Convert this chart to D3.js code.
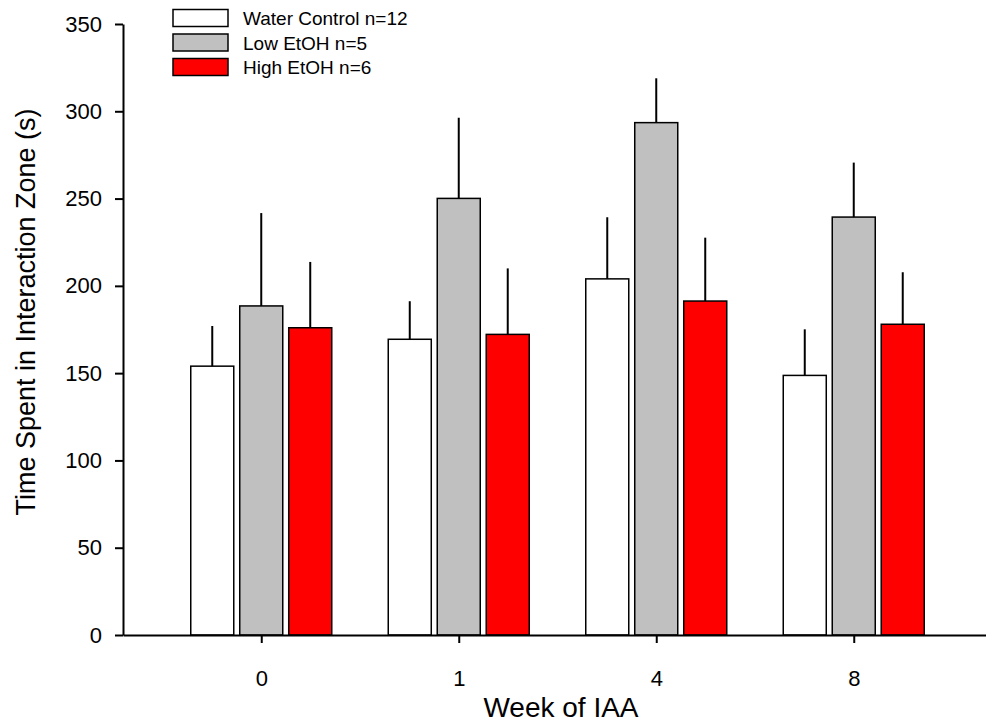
<!DOCTYPE html>
<meta charset="utf-8">
<body style="margin:0">
<style>
body { background: #fff; font-family: Arial, "Liberation Sans", sans-serif; }
.axis path, .axis line { stroke: #000; stroke-width: 2px; }
.axis text { font-size: 22px; fill: #000; font-family: Arial, "Liberation Sans", sans-serif; }
.bar { stroke: #000; stroke-width: 1.5px; }
.err { stroke: #000; stroke-width: 2px; }
</style>
<script src="https://cdn.jsdelivr.net/npm/d3@7"></script>
<script>

var weeks = ["0", "1", "4", "8"];
var seriesNames = ["Water Control n=12", "Low EtOH n=5", "High EtOH n=6"];
var seriesColors = ["#ffffff", "#c0c0c0", "#ff0000"];

var waterMean = [154, 169.4, 204, 148.7];
var waterErr  = [23, 21.8, 35.3, 26.4];
var lowMean   = [188.5, 250.1, 293.5, 239.4];
var lowErr    = [53.2, 46.2, 25.4, 31.2];
var highMean  = [176, 172.2, 191.3, 178];
var highErr   = [37.7, 37.8, 36.3, 29.8];

var yTicks = [0, 50, 100, 150, 200, 250, 300, 350];

var means = [waterMean, lowMean, highMean];
var errs = [waterErr, lowErr, highErr];

var rows = [];
weeks.forEach(function(w, i) {
  seriesNames.forEach(function(s, j) {
    rows.push({week: w, series: s, color: seriesColors[j], mean: means[j][i], err: errs[j][i]});
  });
});

var svg = d3.select("body").append("svg")
    .attr("width", 986)
    .attr("height", 726);

var x = d3.scalePoint()
    .domain(weeks)
    .range([123, 992])
    .padding(0.7);

var xs = d3.scaleBand()
    .domain(seriesNames)
    .range([-70.5, 70.5])
    .paddingInner(0.122)
    .paddingOuter(0);

var y = d3.scaleLinear()
    .domain([0, 350])
    .range([635, 24]);

// bars
svg.selectAll(".bar")
  .data(rows)
 .enter().append("rect")
  .attr("class", "bar")
  .attr("x", function(d) { return x(d.week) + xs(d.series); })
  .attr("width", xs.bandwidth())
  .attr("y", function(d) { return y(d.mean); })
  .attr("height", function(d) { return y(0) - y(d.mean); })
  .style("fill", function(d) { return d.color; });

// upper error bars only
svg.selectAll(".err")
  .data(rows)
 .enter().append("line")
  .attr("class", "err")
  .attr("x1", function(d) { return x(d.week) + xs(d.series) + xs.bandwidth() / 2; })
  .attr("x2", function(d) { return x(d.week) + xs(d.series) + xs.bandwidth() / 2; })
  .attr("y1", function(d) { return y(d.mean); })
  .attr("y2", function(d) { return y(d.mean + d.err); });

// axes
svg.append("g")
  .attr("class", "axis")
  .attr("transform", "translate(0,635)")
  .call(d3.axisBottom(x).tickSize(8).tickSizeOuter(0).tickPadding(27));

svg.append("g")
  .attr("class", "axis")
  .attr("transform", "translate(123,0)")
  .call(d3.axisLeft(y).tickValues(yTicks).tickSize(8).tickSizeOuter(0).tickPadding(13));

svg.append("text")
  .attr("x", 561)
  .attr("y", 717)
  .attr("text-anchor", "middle")
  .style("font-size", "28px")
  .text("Week of IAA");

svg.append("text")
  .attr("transform", "translate(35,312) rotate(-90)")
  .attr("text-anchor", "middle")
  .style("font-size", "27px")
  .text("Time Spent in Interaction Zone (s)");

// legend
var legend = svg.selectAll(".legend")
  .data(seriesNames)
 .enter().append("g")
  .attr("transform", function(d, i) { return "translate(173," + (9.5 + i * 24.5) + ")"; });

legend.append("rect")
  .attr("class", "bar")
  .attr("width", 55)
  .attr("height", 17)
  .style("fill", function(d, i) { return seriesColors[i]; });

legend.append("text")
  .attr("x", 70)
  .attr("y", 15.5)
  .style("font-size", "19px")
  .text(function(d) { return d; });

</script>
